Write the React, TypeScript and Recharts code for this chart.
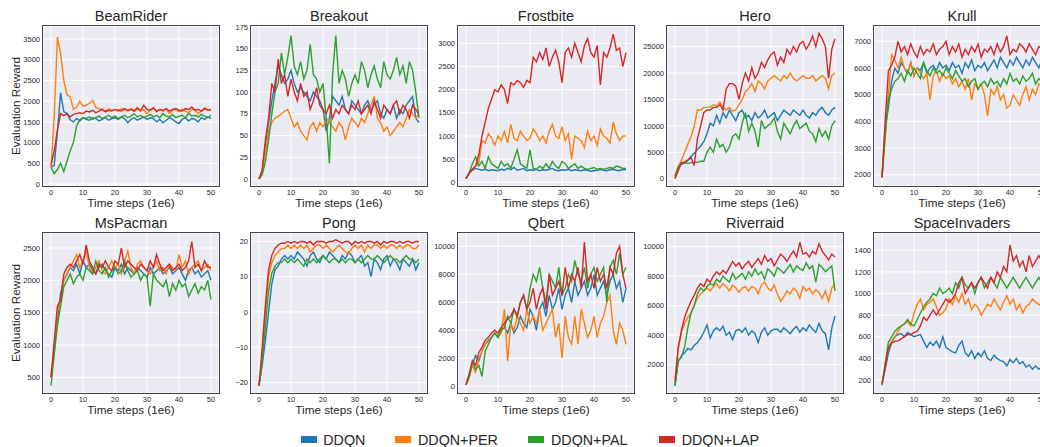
import React from "react";
import { LineChart, Line, XAxis, YAxis, CartesianGrid } from "recharts";

const FONT = "'Liberation Sans', Arial, sans-serif";
const TEXT = "#262626";
const PW = 176;
const PH = 160;

const COLORS = { ddqn: "#1f77b4", per: "#ff7f0e", pal: "#2ca02c", lap: "#d62728" };
const LEGEND = [
  { key: "ddqn", name: "DDQN" },
  { key: "per", name: "DDQN+PER" },
  { key: "pal", name: "DDQN+PAL" },
  { key: "lap", name: "DDQN+LAP" },
];

const steps = [
  0, 1, 2, 3, 4, 5, 6, 7, 8, 9, 10, 11, 12, 13, 14, 15, 16, 17, 18, 19, 20, 21, 22, 23, 24, 25,
  26, 27, 28, 29, 30, 31, 32, 33, 34, 35, 36, 37, 38, 39, 40, 41, 42, 43, 44, 45, 46, 47, 48, 49, 50,
];
const xTicks = [0, 10, 20, 30, 40, 50];

// BeamRider
const beamDDQN = [400, 450, 1250, 2200, 1750, 1700, 1550, 1500, 1580, 1520,
  1600, 1560, 1540, 1600, 1580, 1520, 1560, 1600, 1540, 1580,
  1600, 1560, 1620, 1580, 1480, 1560, 1600, 1540, 1580, 1620,
  1560, 1600, 1580, 1500, 1560, 1480, 1540, 1600, 1560, 1500,
  1460, 1560, 1600, 1520, 1580, 1560, 1500, 1600, 1560, 1620, 1580];
const beamPER = [400, 1600, 3550, 3150, 2500, 2150, 2100, 1800, 1850, 2000,
  1880, 1900, 1950, 2020, 1850, 1820, 1800, 1760, 1820, 1780,
  1800, 1760, 1820, 1800, 1760, 1820, 1780, 1850, 1760, 1800,
  1700, 1780, 1820, 1740, 1800, 1760, 1820, 1700, 1780, 1800,
  1740, 1800, 1760, 1720, 1800, 1780, 1700, 1760, 1840, 1800, 1780];
const beamPAL = [400, 250, 350, 500, 300, 550, 800, 1000, 1400, 1550,
  1600, 1580, 1620, 1560, 1600, 1640, 1580, 1620, 1660, 1600,
  1640, 1580, 1620, 1660, 1600, 1640, 1700, 1620, 1660, 1600,
  1640, 1680, 1620, 1660, 1600, 1700, 1640, 1620, 1680, 1600,
  1640, 1660, 1600, 1700, 1640, 1660, 1620, 1680, 1640, 1600, 1660];
const beamLAP = [450, 800, 1300, 1700, 1650, 1700, 1620, 1680, 1700, 1720,
  1700, 1760, 1740, 1780, 1720, 1760, 1800, 1740, 1780, 1760,
  1800, 1780, 1760, 1820, 1780, 1800, 1760, 1820, 1780, 1900,
  1800, 1780, 1840, 1760, 1800, 1780, 1820, 1760, 1800, 1820,
  1780, 1760, 1820, 1800, 1860, 1780, 1800, 1760, 1820, 1780, 1800];

// Breakout
const breakDDQN = [0, 10, 40, 65, 90, 110, 130, 120, 110, 115,
  125, 110, 100, 105, 100, 95, 90, 100, 95, 90,
  80, 55, 70, 95, 90, 85, 95, 80, 75, 90,
  85, 80, 75, 85, 90, 80, 85, 90, 75, 70,
  80, 75, 85, 70, 80, 75, 85, 90, 95, 70, 65];
const breakPER = [0, 8, 30, 55, 65, 70, 72, 75, 78, 80,
  70, 60, 65, 55, 50, 45, 60, 65, 55, 65,
  60, 70, 65, 60, 55, 65, 60, 45, 60, 70,
  65, 60, 70, 65, 75, 85, 95, 70, 65, 55,
  60, 50, 55, 60, 65, 60, 70, 80, 75, 70, 75];
const breakPAL = [0, 5, 20, 45, 75, 100, 110, 145, 120, 140,
  165, 130, 120, 135, 115, 125, 155, 120, 115, 100,
  110, 70, 18, 120, 165, 110, 125, 115, 95, 110,
  120, 110, 135, 125, 105, 120, 130, 115, 105, 135,
  120, 115, 125, 140, 120, 130, 110, 135, 125, 100, 70];
const breakLAP = [0, 10, 45, 70, 110, 100, 138, 110, 120, 95,
  115, 100, 90, 110, 95, 100, 80, 90, 105, 85,
  80, 75, 85, 70, 80, 75, 85, 80, 75, 85,
  80, 90, 75, 80, 85, 75, 90, 80, 70, 85,
  80, 75, 85, 90, 75, 85, 80, 70, 85, 80, 75];

// Frostbite
const frostDDQN = [80, 200, 260, 300, 280, 260, 280, 250, 270, 260,
  250, 280, 260, 300, 270, 320, 260, 280, 300, 250,
  270, 260, 280, 250, 270, 260, 280, 300, 260, 250,
  270, 260, 280, 250, 270, 260, 250, 270, 260, 240,
  250, 260, 280, 260, 250, 270, 280, 260, 250, 280, 270];
const frostPER = [80, 200, 280, 350, 420, 900, 850, 1050, 950, 800,
  1000, 900, 1100, 850, 1250, 950, 900, 1100, 1000, 900,
  950, 1150, 1050, 900, 1000, 850, 1100, 1250, 1000, 950,
  1200, 900, 1050, 500, 1000, 950, 900, 750, 1100, 900,
  1000, 800, 1150, 1000, 950, 850, 1300, 1050, 900, 1000, 1000];
const frostPAL = [80, 200, 400, 550, 350, 450, 300, 550, 400, 350,
  300, 450, 350, 400, 300, 500, 700, 400, 350, 300,
  700, 300, 280, 350, 300, 400, 300, 450, 350, 300,
  450, 400, 300, 350, 400, 300, 350, 300, 280, 300,
  320, 280, 300, 280, 300, 320, 300, 350, 330, 300, 300];
const frostLAP = [80, 200, 280, 350, 600, 1000, 1300, 1600, 1800, 2000,
  1950, 2100, 2000, 1700, 2150, 2100, 2200, 2150, 2050, 2200,
  2150, 2700, 2600, 2800, 2650, 2900, 2500, 2700, 2850, 2600,
  2150, 2800, 2900, 2700, 3000, 2800, 2600, 2950, 3100, 2800,
  2700, 2950, 2100, 2800, 2700, 2900, 3200, 2850, 2900, 2500, 2800];

// Hero
const heroDDQN = [500, 2000, 2800, 2900, 3500, 4200, 4800, 5500, 6200, 7000,
  8500, 10500, 10000, 12000, 10500, 12500, 11500, 13000, 12000, 11000,
  12500, 13000, 11500, 12000, 11000, 12500, 11500, 12000, 13000, 11500,
  12000, 12500, 11000, 12000, 13000, 12500, 12000, 13000, 12500, 12000,
  13000, 12000, 11500, 12500, 12000, 13000, 13500, 12500, 12000, 13000, 13500];
const heroPER = [800, 2300, 3500, 5000, 6500, 8000, 10000, 13000, 13000, 13500,
  13500, 13500, 14000, 13800, 14500, 13500, 13000, 13500, 12800, 13000,
  14000, 15000, 16500, 17000, 18000, 16500, 18500, 18000, 17000, 18500,
  19000, 19500, 19000, 18500, 19500, 19000, 20000, 19000, 18500, 19000,
  19500, 19000, 19000, 19500, 18500, 19000, 19500, 19000, 17000, 19500, 20000];
const heroPAL = [200, 2200, 2900, 3000, 2900, 3000, 3100, 3100, 3300, 3300,
  5000, 6000, 5000, 7500, 6000, 6500, 5000, 6000, 8000, 8500,
  7500, 10500, 12500, 9000, 10500, 9000, 6000, 11000, 9500, 10000,
  10500, 11500, 9000, 7500, 10500, 9500, 8500, 10000, 11000, 9500,
  10000, 10500, 9000, 8500, 7000, 9500, 8000, 9000, 7500, 10000, 11000];
const heroLAP = [0, 1500, 3000, 3200, 3500, 4000, 2500, 7500, 10000, 12500,
  13000, 13000, 13500, 13500, 14000, 13000, 17000, 18000, 18000, 17500,
  15000, 18000, 20000, 18500, 21000, 19000, 20000, 22000, 21000, 22500,
  23500, 24000, 21500, 23000, 22000, 24500, 23500, 25000, 24000, 25500,
  26000, 24500, 25500, 27000, 25000, 27500, 26500, 25000, 19000, 24500, 26500];

// Krull
const krullDDQN = [1900, 3800, 4500, 5500, 6000, 5800, 6200, 6000, 5800, 6200,
  5700, 6000, 5900, 6200, 5800, 6000, 6100, 5900, 6200, 6000,
  6100, 5900, 6200, 6000, 6100, 5800, 6200, 6000, 6300, 5900,
  6100, 6000, 6200, 5900, 6100, 6300, 6000, 6400, 6200, 6000,
  6300, 6100, 6400, 6200, 6000, 6300, 6100, 6400, 6200, 6000, 6300];
const krullPER = [1900, 3400, 5000, 6500, 6300, 6000, 6400, 6000, 5800, 6200,
  5700, 6000, 5800, 5600, 5800, 4800, 5700, 5900, 5500, 5800,
  5600, 5700, 5400, 5600, 5300, 5500, 5200, 5600, 4800, 5400,
  5200, 5400, 5000, 4200, 5200, 5000, 5300, 4800, 5000, 4500,
  4600, 5000, 4800, 4600, 5000, 5300, 4800, 5200, 5000, 5400, 5300];
const krullPAL = [1900, 3500, 4800, 5200, 5500, 5600, 5800, 5500, 5900, 5700,
  6000, 5800, 5600, 6200, 5900, 5700, 6000, 5800, 5900, 5700,
  6000, 5800, 5600, 5900, 5700, 5500, 5600, 5300, 5500, 5600,
  5200, 5400, 5500, 5300, 5600, 5400, 5500, 5300, 5600, 5400,
  5800, 5500, 5600, 5400, 5700, 5500, 5600, 5800, 5400, 5600, 5500];
const krullLAP = [1900, 4000, 5900, 6100, 6400, 7000, 6600, 6800, 6500, 6900,
  6600, 6400, 6800, 6500, 6700, 6600, 6900, 6500, 6700, 6800,
  7000, 6500, 6800, 6600, 6900, 6400, 6700, 6500, 6800, 6600,
  6900, 6400, 6700, 6600, 6800, 6500, 6900, 6600, 6800, 7200,
  6500, 6700, 6600, 6900, 6800, 6600, 6900, 6700, 6500, 6800, 6700];

// MsPacman
const pacDDQN = [500, 900, 1400, 1800, 2000, 2100, 2200, 2150, 2250, 2100,
  2300, 2200, 2250, 2150, 2100, 2200, 2250, 2150, 2100, 2050,
  2200, 2150, 2250, 2100, 2200, 2150, 2100, 2200, 2150, 2100,
  2050, 2200, 2100, 2150, 2200, 2100, 2150, 2200, 2100, 2150,
  2200, 2100, 2000, 2150, 2200, 2100, 2150, 2050, 2100, 2150, 2000];
const pacPER = [500, 1000, 1500, 1700, 2000, 2100, 2200, 2300, 2400, 2200,
  2300, 2450, 2200, 2100, 2200, 2300, 2150, 2100, 2200, 2300,
  2200, 2250, 2100, 2300, 2450, 2200, 2100, 2250, 2300, 2200,
  2150, 2100, 2200, 2300, 2150, 2200, 2100, 2250, 2200, 2150,
  2400, 2200, 2300, 2100, 2200, 2250, 2300, 2150, 2200, 2250, 2150];
const pacPAL = [370, 850, 1300, 1600, 1900, 2000, 2100, 1950, 2050, 2100,
  2000, 2200, 2150, 2100, 2300, 2150, 2100, 2200, 2050, 2150,
  2200, 2100, 2150, 2300, 2150, 2050, 2100, 2150, 2000, 2100,
  2050, 1600, 2100, 2000, 1950, 1900, 2000, 1750, 1950, 1850,
  2000, 1900, 1950, 1750, 1850, 1950, 1800, 1900, 1850, 2000, 1700];
const pacLAP = [500, 1050, 1600, 1700, 2100, 2200, 2250, 2200, 2300, 2400,
  2250, 2550, 2300, 2200, 2100, 2250, 2200, 2300, 2200, 2150,
  2300, 2250, 2500, 2200, 2300, 2250, 2200, 2150, 2250, 2200,
  2150, 2300, 2200, 2400, 2250, 2150, 2200, 2250, 2150, 2200,
  2250, 2150, 2200, 2300, 2600, 2200, 2250, 2150, 2300, 2200, 2200];

// Pong
const pongDDQN = [-21, -15, -8, 0, 8, 12, 13, 15, 16, 15,
  16, 15, 17, 16, 15, 13, 16, 17, 15, 14,
  16, 15, 17, 16, 15, 14, 16, 15, 17, 16,
  14, 15, 16, 13, 14, 10, 15, 14, 12, 15,
  16, 13, 15, 14, 12, 15, 14, 13, 15, 12, 14];
const pongPER = [-21, -12, 0, 10, 14, 16, 17, 18, 18, 19,
  18, 19, 18, 19, 18, 19, 17, 18, 19, 19,
  18, 19, 18, 17, 18, 19, 18, 17, 16.5, 18,
  19, 18, 19, 17, 19, 18, 19, 19, 18, 19,
  18, 19, 19, 18, 19, 18, 19, 19, 18, 18, 19];
const pongPAL = [-21, -14, -4, 6, 11, 13, 14, 14, 15, 14,
  15, 14, 15, 14, 13, 15, 14, 15, 14, 15,
  16, 15, 14, 15, 15, 14, 15, 14, 15, 15,
  14, 15, 14, 15, 16, 15, 15, 16, 15, 14,
  15, 16, 15, 15, 14, 15, 16, 15, 15, 14, 15];
const pongLAP = [-21, -10, 2, 12, 16, 18, 19, 19.5, 19.5, 20,
  19.5, 20, 19.5, 20, 20, 19.5, 20, 19, 20, 20,
  20, 19.5, 20, 20, 20.5, 20, 19.5, 20, 20, 19,
  20, 19.5, 20, 19.5, 20, 20, 19.5, 20, 19, 20,
  19.5, 20, 20, 19.5, 20, 19.5, 20, 20, 19.5, 20, 20];

// Qbert
const qbertDDQN = [100, 800, 1500, 2200, 1800, 2500, 3000, 3300, 3500, 3800,
  3500, 4000, 4200, 3800, 4500, 3800, 4200, 5000, 4500, 4200,
  5500, 5000, 4000, 5500, 6000, 5000, 6500, 5500, 6000, 7000,
  5500, 6500, 7000, 6000, 7500, 6500, 7000, 7500, 6500, 7000,
  8000, 6500, 7000, 7500, 6500, 7500, 8000, 7000, 7500, 6000, 7000];
const qbertPER = [100, 700, 1500, 1000, 2000, 2500, 3000, 3200, 3500, 3800,
  3600, 3800, 5500, 1800, 4500, 4000, 5000, 4500, 4000, 5500,
  4500, 5000, 4500, 5500, 4000, 4500, 5000, 5500, 3500, 4500,
  2000, 5000, 3500, 3000, 5000, 3000, 5500, 4500, 3500, 4000,
  5000, 3500, 4500, 5000, 6000, 6500, 4000, 3000, 4500, 4000, 3000];
const qbertPAL = [100, 600, 1800, 1200, 1500, 700, 2500, 3000, 3500, 3800,
  3500, 4000, 4200, 5000, 4500, 5500, 5000, 6000, 6500, 5500,
  7000, 8000, 7500, 8500, 7000, 6000, 8000, 7500, 7000, 8500,
  6500, 7000, 8000, 7500, 9000, 8000, 7500, 8500, 7000, 8000,
  8500, 7500, 8000, 8500, 6000, 8500, 9000, 8000, 9500, 8000, 8500];
const qbertLAP = [100, 900, 1800, 1500, 2400, 2800, 3300, 3500, 3800, 4000,
  3800, 4200, 4500, 4800, 5000, 5500, 5000, 6000, 6500, 5500,
  6000, 7000, 5500, 6500, 7000, 5500, 8000, 6500, 7000, 7500,
  6500, 8500, 7000, 8000, 7500, 8500, 7000, 10300, 7500, 8000,
  7000, 8500, 7500, 8000, 7000, 8500, 8000, 9500, 10000, 8000, 7000];

// Riverraid
const riverDDQN = [550, 2200, 2600, 2800, 3100, 3000, 3300, 3500, 3800, 4200,
  4700, 3800, 4300, 4500, 4300, 4600, 4000, 4200, 3700, 4300,
  4400, 4200, 4500, 4000, 4300, 4100, 3500, 4200, 4500, 4000,
  4300, 4400, 4400, 4200, 4500, 4300, 4100, 4400, 4600, 4200,
  4500, 4300, 4700, 4400, 4200, 4800, 4300, 4100, 3000, 4500, 5300];
const riverPER = [700, 3000, 4200, 4800, 5200, 5500, 6000, 6500, 6800, 7000,
  7200, 7000, 7300, 7500, 7200, 7500, 7300, 7000, 7400, 7200,
  6900, 7200, 7300, 7000, 7300, 7200, 6800, 7400, 7600, 7200,
  7000, 7400, 6800, 6300, 6600, 7000, 6800, 7200, 7000, 6500,
  7300, 7000, 7200, 6800, 7100, 6900, 6500, 7000, 6300, 7200, 7500];
const riverPAL = [600, 2300, 2500, 3200, 4500, 5500, 6000, 6800, 7200, 7000,
  7300, 7500, 7400, 7800, 7600, 8000, 7800, 7600, 8200, 7800,
  8000, 8200, 7800, 8300, 8000, 8500, 8100, 8300, 7800, 8500,
  8300, 8000, 8600, 8400, 8200, 8500, 8800, 8300, 8700, 8500,
  8400, 8900, 8500, 8700, 7600, 8800, 8600, 8300, 8500, 8700, 7000];
const riverLAP = [900, 3200, 4300, 5200, 5800, 6300, 6700, 7200, 7500, 7300,
  7800, 7600, 8000, 8300, 8100, 8400, 8200, 8600, 9000, 8700,
  8900, 8500, 8800, 9000, 8600, 8900, 9200, 8800, 9400, 9000,
  9200, 8700, 9100, 9500, 9300, 9000, 9400, 9700, 9300, 10300,
  9500, 9600, 9300, 9700, 9500, 10200, 9700, 9400, 9100, 9500, 9300];

// SpaceInvaders
const spaceDDQN = [160, 300, 450, 550, 600, 620, 630, 600, 640, 620,
  600, 610, 620, 560, 500, 550, 520, 560, 500, 600,
  500, 480, 460, 450, 520, 560, 450, 420, 470, 400,
  450, 420, 470, 400, 380, 430, 400, 380, 370, 330,
  390, 360, 400, 350, 370, 320, 340, 300, 330, 300, 320];
const spacePER = [160, 350, 500, 560, 600, 650, 700, 720, 740, 700,
  820, 900, 950, 850, 900, 920, 950, 880, 800, 820,
  860, 950, 900, 980, 920, 1000, 900, 950, 850, 900,
  870, 800, 850, 900, 880, 950, 900, 850, 920, 980,
  900, 950, 850, 900, 820, 880, 900, 950, 920, 900, 880];
const spacePAL = [150, 350, 550, 600, 650, 680, 700, 720, 760, 720,
  700, 760, 820, 880, 920, 950, 1000, 980, 1050, 1000,
  1020, 1050, 1000, 1100, 1050, 1150, 1080, 1050, 1100, 1000,
  1100, 1150, 1050, 1100, 1150, 1100, 1050, 1150, 1100, 1050,
  1100, 1150, 1100, 1050, 1100, 1150, 1100, 1050, 1100, 1150, 1100];
const spaceLAP = [170, 320, 500, 540, 560, 560, 580, 600, 620, 620,
  640, 650, 700, 780, 750, 800, 850, 800, 850, 900,
  950, 920, 950, 1000, 1100, 1150, 1000, 1050, 1100, 1050,
  1100, 1150, 1100, 1050, 1150, 1100, 1200, 1150, 1250, 1200,
  1450, 1300, 1350, 1250, 1300, 1200, 1350, 1250, 1300, 1350, 1300];

const rows = (a: number[], b: number[], c: number[], d: number[]) =>
  steps.map((x, i) => ({ x, ddqn: a[i], per: b[i], pal: c[i], lap: d[i] }));

const PANELS = [
  { title: "BeamRider", col: 0, row: 0, data: rows(beamDDQN, beamPER, beamPAL, beamLAP), domain: [-48, 3814], ticks: [0, 500, 1000, 1500, 2000, 2500, 3000, 3500] },
  { title: "Breakout", col: 1, row: 0, data: rows(breakDDQN, breakPER, breakPAL, breakLAP), domain: [-8, 176], ticks: [0, 25, 50, 75, 100, 125, 150, 175] },
  { title: "Frostbite", col: 2, row: 0, data: rows(frostDDQN, frostPER, frostPAL, frostLAP), domain: [-80, 3374], ticks: [0, 500, 1000, 1500, 2000, 2500, 3000] },
  { title: "Hero", col: 3, row: 0, data: rows(heroDDQN, heroPER, heroPAL, heroLAP), domain: [-1375, 28900], ticks: [0, 5000, 10000, 15000, 20000, 25000] },
  { title: "Krull", col: 4, row: 0, data: rows(krullDDQN, krullPER, krullPAL, krullLAP), domain: [1578, 7572], ticks: [2000, 3000, 4000, 5000, 6000, 7000] },
  { title: "MsPacman", col: 0, row: 1, data: rows(pacDDQN, pacPER, pacPAL, pacLAP), domain: [258, 2732], ticks: [500, 1000, 1500, 2000, 2500] },
  { title: "Pong", col: 1, row: 1, data: rows(pongDDQN, pongPER, pongPAL, pongLAP), domain: [-23, 22.4], ticks: [-20, -10, 0, 10, 20] },
  { title: "Qbert", col: 2, row: 1, data: rows(qbertDDQN, qbertPER, qbertPAL, qbertLAP), domain: [-480, 10950], ticks: [0, 2000, 4000, 6000, 8000, 10000] },
  { title: "Riverraid", col: 3, row: 1, data: rows(riverDDQN, riverPER, riverPAL, riverLAP), domain: [80, 10930], ticks: [2000, 4000, 6000, 8000, 10000] },
  { title: "SpaceInvaders", col: 4, row: 1, data: rows(spaceDDQN, spacePER, spacePAL, spaceLAP), domain: [80, 1560], ticks: [200, 400, 600, 800, 1000, 1200, 1400] },
];

const COL_LEFT = [43, 251, 458, 667, 874];
const ROW_TOP = [26, 233];
const PAD = 6; // room above the plot so the top tick label is not clipped

const tickStyle = { fontSize: 7.5, fill: TEXT, fontFamily: FONT };
const fmt = (v: number) => String(v).replace("-", "\u2212");

function Panel({ p }: { p: (typeof PANELS)[number] }) {
  const left = COL_LEFT[p.col];
  const top = ROW_TOP[p.row];
  return (
    <>
      <div style={{ position: "absolute", left, top: top - 17, width: PW, textAlign: "center", fontSize: 14.5, lineHeight: "14.5px", color: TEXT }}>
        {p.title}
      </div>
      <div style={{ position: "absolute", left: left - 40, top: top - PAD }}>
        <LineChart width={PW + 40} height={PH + 18 + PAD} data={p.data} margin={{ top: PAD, right: 0, bottom: 0, left: 0 }}>
          <CartesianGrid stroke="#ffffff" strokeWidth={1} fill="#EAEAF2" />
          <XAxis dataKey="x" type="number" domain={[-2.5, 52.5]} ticks={xTicks} allowDataOverflow interval={0}
            height={18} axisLine={false} tickLine={false} tickSize={0} tickMargin={4} tick={tickStyle} />
          <YAxis type="number" domain={p.domain} ticks={p.ticks} allowDataOverflow interval={0}
            width={40} axisLine={false} tickLine={false} tickSize={0} tickMargin={3} tick={tickStyle} tickFormatter={fmt} />
          {LEGEND.map((s) => (
            <Line key={s.key} type="linear" dataKey={s.key} stroke={COLORS[s.key as keyof typeof COLORS]}
              strokeWidth={1.4} dot={false} isAnimationActive={false} />
          ))}
        </LineChart>
      </div>
      <div style={{ position: "absolute", left: left - 1, top: top - 1, width: PW + 2, height: PH + 2, boxSizing: "border-box", border: "1.5px solid #444", pointerEvents: "none" }} />
      <div style={{ position: "absolute", left, top: top + PH + 10.6, width: PW, textAlign: "center", fontSize: 11.7, lineHeight: "11.7px", color: TEXT }}>
        Time steps (1e6)
      </div>
      {p.col === 0 && (
        <div style={{ position: "absolute", left: 16 - 80, top: top + PH / 2 - 7, width: 160, height: 14, lineHeight: "14px", fontSize: 11.7, textAlign: "center", color: TEXT, transform: "rotate(-90deg)" }}>
          Evaluation Reward
        </div>
      )}
    </>
  );
}

const LEGEND_POS = [
  { sq: 300.7, tx: 323.3 },
  { sq: 395, tx: 418 },
  { sq: 528.3, tx: 551 },
  { sq: 659.3, tx: 681.7 },
];

export default function App() {
  return (
    <div style={{ position: "absolute", left: 0, top: 0, width: 1040, height: 447, overflow: "hidden", background: "#fff", fontFamily: FONT }}>
      {PANELS.map((p) => (
        <Panel key={p.title} p={p} />
      ))}
      {LEGEND.map((s, i) => (
        <React.Fragment key={s.key}>
          <div style={{ position: "absolute", left: LEGEND_POS[i].sq, top: 436.3, width: 16, height: 7, background: COLORS[s.key as keyof typeof COLORS] }} />
          <div style={{ position: "absolute", left: LEGEND_POS[i].tx, top: 433, fontSize: 14.3, lineHeight: "14.3px", color: TEXT }}>
            {s.name}
          </div>
        </React.Fragment>
      ))}
    </div>
  );
}
